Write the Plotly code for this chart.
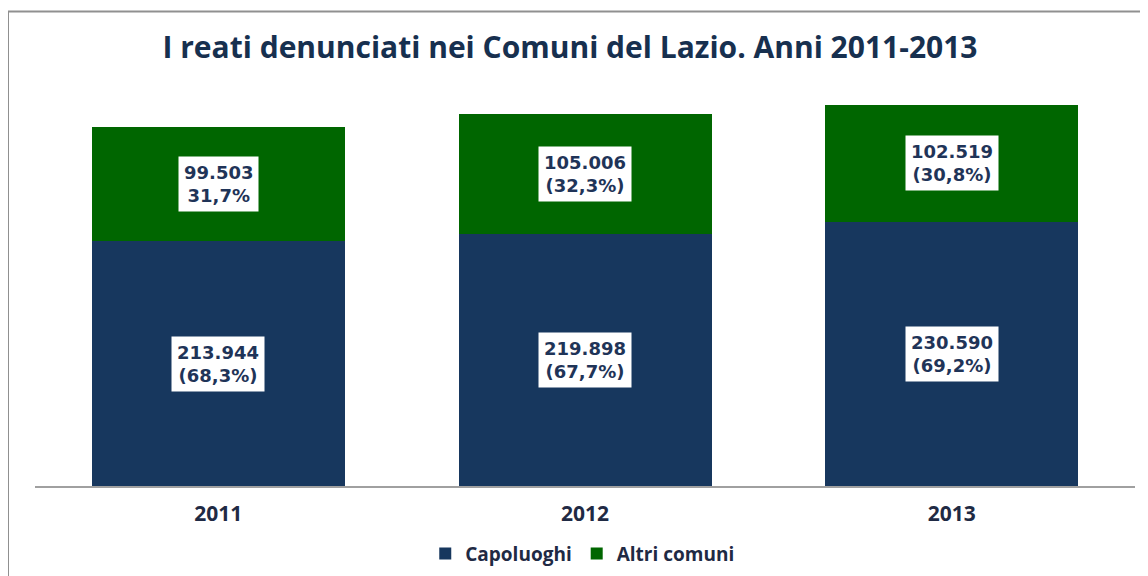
import plotly.graph_objects as go

years = ["2011", "2012", "2013"]
capoluoghi = [213944, 219898, 230590]
altri_comuni = [99503, 105006, 102519]
capoluoghi_pct = ["(68,3%)", "(67,7%)", "(69,2%)"]
altri_pct = ["31,7%", "(32,3%)", "(30,8%)"]
series_names = ["Capoluoghi", "Altri comuni"]
title_text = "I reati denunciati nei Comuni del Lazio. Anni 2011-2013"

NAVY = "#17375E"
GREEN = "#006600"
TEXT = "#1F3458"

def fmt(v):
    return f"{v:,}".replace(",", ".")

xpos = list(range(len(years)))

fig = go.Figure()
fig.add_trace(go.Bar(x=xpos, y=capoluoghi, name=series_names[0],
                     marker=dict(color=NAVY, line=dict(width=0))))
fig.add_trace(go.Bar(x=xpos, y=altri_comuni, name=series_names[1],
                     marker=dict(color=GREEN, line=dict(width=0))))

annotations = []
for i in xpos:
    c = capoluoghi[i]
    a = altri_comuni[i]
    annotations.append(dict(x=i, y=c / 2, xref="x", yref="y",
                            text=f"{fmt(c)}<br>{capoluoghi_pct[i]}",
                            showarrow=False, bgcolor="white", borderpad=5,
                            font=dict(family="DejaVu Sans", size=18, color=TEXT, weight="bold")))
    annotations.append(dict(x=i, y=c + a / 2, xref="x", yref="y",
                            text=f"{fmt(a)}<br>{altri_pct[i]}",
                            showarrow=False, bgcolor="white", borderpad=5,
                            font=dict(family="DejaVu Sans", size=18, color=TEXT, weight="bold")))

# page body has an 8px default margin; compensate in the figure margins
fig.update_layout(
    width=1148, height=576,
    margin=dict(l=27, r=21, t=83, b=95),
    paper_bgcolor="white", plot_bgcolor="white",
    barmode="stack", bargap=0.31,
    title=dict(text=title_text, x=562 / 1148, xanchor="center", xref="container",
               y=1 - 39 / 576, yanchor="middle", yref="container",
               font=dict(family="Open Sans", size=30, color="#17304F", weight="bold")),
    xaxis=dict(type="linear", range=[-0.5, len(years) - 0.5],
               tickmode="array", tickvals=xpos, ticktext=years,
               showline=True, linecolor="#A0A0A0", linewidth=2, ticks="",
               tickfont=dict(family="Open Sans", size=21, color="#1F2A44", weight="bold"),
               ticklabelstandoff=8, showgrid=False, zeroline=False),
    yaxis=dict(range=[0, 345200], visible=False, showgrid=False, zeroline=False),
    legend=dict(orientation="h", x=0.4975, xanchor="center", y=-0.171, yanchor="middle",
                font=dict(family="Open Sans", size=19, color="#1F2A44", weight="bold"),
                traceorder="normal"),
    showlegend=True,
    annotations=annotations,
    shapes=[dict(type="rect", xref="paper", yref="paper",
                 x0=(0 - 27) / 1100, x1=(1160 - 27) / 1100,
                 y0=(481 - 600) / 398, y1=(481 - 3) / 398,
                 line=dict(color="#909090", width=2), fillcolor="rgba(0,0,0,0)",
                 layer="below")],
)

fig.write_html("out.html", config={"displayModeBar": False})
